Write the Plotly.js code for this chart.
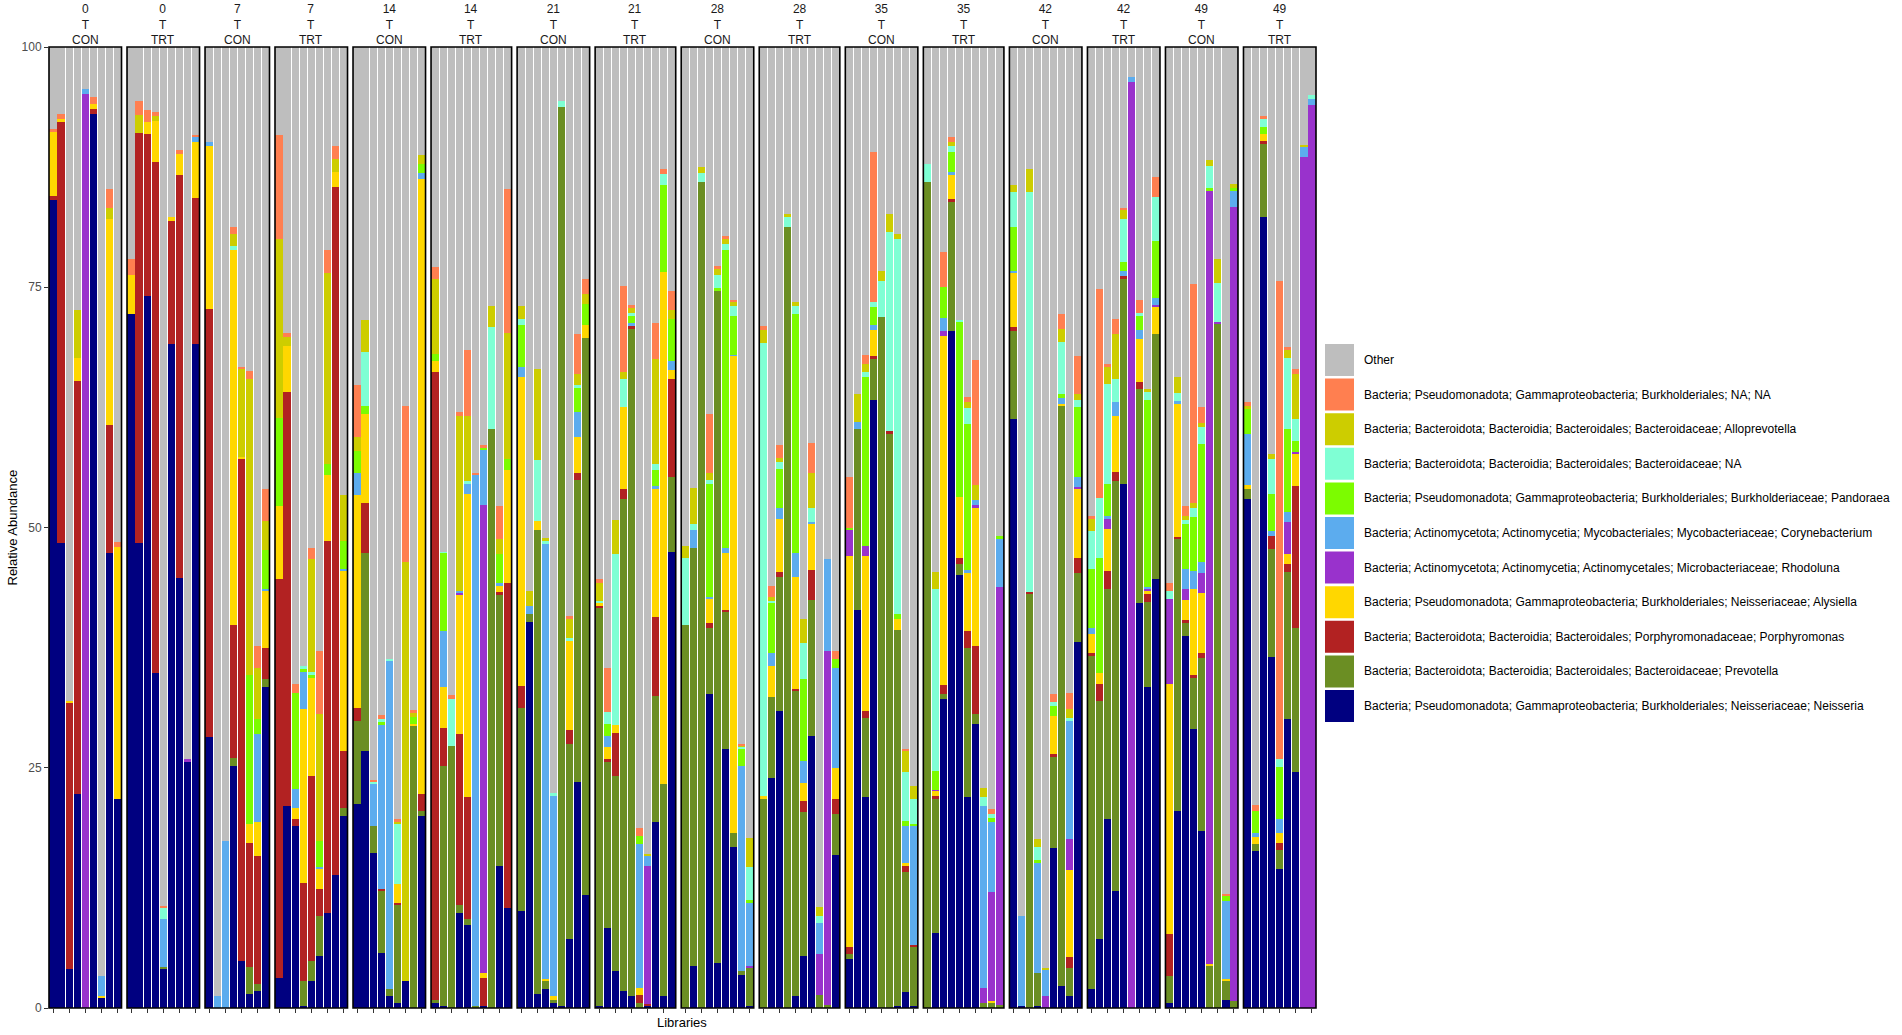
<!DOCTYPE html>
<html>
<head>
<meta charset="utf-8">
<script src="https://cdn.plot.ly/plotly-3.0.1.min.js"></script>
<style>html,body{margin:0;padding:0;background:#fff;}#chart{width:1902px;height:1035px;}</style>
</head>
<body>
<div id="chart"></div>
<script>
// ---- facets ----
const facetDay = [0,0,7,7,14,14,21,21,28,28,35,35,42,42,49,49];
const facetGroup = ['CON','TRT','CON','TRT','CON','TRT','CON','TRT','CON','TRT','CON','TRT','CON','TRT','CON','TRT'];
const facetBars = [9,9,8,9,9,10,9,10,9,10,9,10,9,9,9,9];

// ---- series values (relative abundance %, bars in facet order) ----
const neisseria = [
 84.1,48.4,4.1,22.3,0,93.0,1.0,47.3,21.7,
 72.2,48.4,74.1,34.9,4.1,69.1,44.7,25.6,69.1,
 28.2,0,0,25.2,4.9,1.5,1.8,33.4,
 3.1,21.0,18.9,0.2,2.8,5.4,9.9,13.8,20.0,
 21.2,26.7,16.1,5.7,1.2,0.5,2.8,0,20.0,
 0.5,0.2,0,9.9,8.6,0,0.2,0,14.8,10.4,
 10.1,40.2,1.5,2.0,0.5,0.2,7.2,23.5,11.8,
 0.2,8.3,3.9,1.8,1.2,0,0.2,19.4,1.2,47.5,
 0,4.4,0,32.7,4.7,26.9,16.8,3.4,0.2,
 0,23.9,30.9,0,1.3,5.4,28.3,0,0,15.9,
 5.1,41.4,22.0,63.3,0,0,0.2,1.7,0.2,
 0,7.8,32.2,70.4,45.1,22.0,29.6,0,0,0,
 61.3,0.2,0,0.2,0,16.6,2.3,1.2,38.1,
 2.0,7.2,19.7,12.2,54.5,0,42.1,33.4,44.6,
 0.5,20.5,38.7,29.0,18.4,0,0,0.8,0,
 53.0,16.3,82.3,36.5,14.5,30.1,24.6,0,0];
const prevotella = [
 0,0,0,0,0,0,0,0,0,
 0,0,0,0,0.2,0,0,0,0,
 0,0,0,0.8,0,2.8,0.7,0.8,
 0,0,0,2.6,2.1,4.2,0,0,0.8,
 8.7,20.6,2.8,6.5,0.8,10.2,0,29.3,0.5,
 0.3,25.0,27.3,0.8,0.7,0.2,0,60.3,28.2,0,
 21.1,0.8,48.2,0.8,0.3,93.6,20.3,31.4,57.9,
 41.4,17.3,20.2,51.2,69.5,0.5,0,13.1,22.1,7.8,
 39.9,43.5,86.0,6.8,69.9,14.3,1.4,0.5,4.0,
 21.7,8.5,14.0,81.3,31.7,15.0,14.2,1.4,0.3,4.3,
 0.5,18.8,8.2,4.2,71.9,59.7,39.1,12.5,6.2,
 86.0,14.0,0.5,13.5,1.1,15.5,1.0,0.5,0.5,0.3,
 9.1,0,43.1,3.4,0,9.5,60.3,3.0,7.2,
 34.6,24.7,23.9,42.6,21.4,0,22.3,8.9,25.5,
 2.8,28.3,1.4,5.3,18.0,4.4,71.2,2.0,0.7,
 1.0,0.8,7.6,11.3,1.9,15.3,14.9,0,0];
const porphyromonas = [
 0.4,43.8,27.6,42.9,0,0.6,0,13.4,0,
 0,42.6,16.8,53.1,0,12.8,42.0,0,15.2,
 44.5,0,0,13.9,52.2,12.9,13.3,3.3,
 41.5,43.1,0.8,10.2,19.2,2.8,38.7,71.6,5.9,
 1.3,5.2,0,0.2,0,0.2,0,0,1.8,
 65.4,3.9,0,17.8,12.7,0,2.9,0,0.3,33.8,
 2.3,0,0,0,0,0,1.4,0.8,0,
 0.2,0.3,4.5,1.0,0.3,0.9,0.2,8.2,0,10.2,
 0,0,0,0.6,0,0.2,0,0,0,
 0,0,0.5,0,0.2,1.1,3.1,0,0,1.6,
 0.8,0,0.7,0.3,0,0.3,0,0.6,0.2,
 0,0.3,0.9,0.3,0.6,1.7,7.1,0,0,0,
 0.5,0,0.2,0,0,0.3,0,1.1,1.5,
 0.3,1.8,1.9,1.0,0.3,0,0.7,0.8,0,
 4.4,0.2,0.3,0.3,0.5,0,0,0,0,
 0,0,0.3,1.3,0.8,0.8,14.8,0,0];
const alysiella = [
 6.7,0.3,0.2,2.4,0,0.5,0.2,21.4,26.3,
 4.1,0,1.3,4.3,0,0.4,2.2,0,5.8,
 17.0,0,0,39.0,0.2,1.9,3.6,5.9,
 7.6,4.8,1.1,18.1,10.2,2.1,6.9,1.6,18.8,
 22.2,9.3,0,0,0,2.0,0,0.3,64.0,
 1.1,4.3,0,14.5,31.5,0,0.5,0,0.6,11.8,
 32.2,0,1.0,0.2,0.4,0,9.3,3.7,1.4,
 0.3,1.3,0.9,8.5,0,0.7,0,13.3,53.3,0.9,
 0,0,0,2.5,0,5.9,49.6,0,0,
 0.4,3.2,5.5,0,11.7,1.9,4.8,0,0,3.2,
 40.6,0,16.1,2.8,0,0,1.2,0.3,0,
 0,0.5,36.3,2.5,6.4,6.1,14.3,0,0.2,0,
 5.6,0,0,0,0,4.0,0.3,9.1,7.2,
 2.0,1.2,4.3,5.8,0,0,4.5,0.3,2.8,
 26.0,13.9,2.1,9.0,6.3,0.2,0,0.2,0,
 0.4,0.7,0.7,0,1.0,1.0,3.4,0,0];
const rhodoluna = [
 0,0,0,0,95.1,0,0,0,0,
 0,0,0,0,0,0,0,0.3,0,
 0,0,0,0,0,0,0,0,
 0,0,0,0,0,0,0,0,0,
 0,0,0,0,0,0,0,0,0,
 0,0,0,0.2,0,0,48.7,0,0,0,
 0,0,0,0,0,0,0,0,0,
 0,0,0,0,0,0,14.4,0,0,0,
 0,0,0,0,0,0,0,0,0.2,
 0,0,0,0,0,0,0,4.2,36.8,0,
 2.7,0,1.1,0,0,0,0,0,0,
 0,0.1,0.6,0,0,0,0.3,1.6,11.4,43.5,
 0,0,0,0,1.2,0,0,3.2,0.2,
 0,0,1.1,0,0,96.4,0,0.2,0.3,
 8.9,0,1.1,0,2.1,80.4,0.2,0,82.7,
 0,0,0,0,0,3.4,0.2,88.6,94.0];
const corynebacterium = [
 0,0,0,0,0.5,0,2.1,0,0,
 0,0,0,0,5.0,0,0,0,0.5,
 0.4,1.2,17.4,0,0,0,9.1,0.2,
 0,0,2.0,3.9,0,0.2,0,0,0.2,
 2.3,0,4.4,17.1,34.1,0,0,0,0.6,
 0,5.8,0,0.2,1.0,55.3,5.8,0,0.3,0,
 1.0,0.8,0,45.3,20.9,0,0,2.6,0,
 0,1.1,0,0,0.3,15.0,1.0,0.3,0,0.9,
 0,1.8,0,0.2,0,0.6,0.2,21.3,6.5,
 0,1.3,1.1,0,2.4,2.3,0.2,3.2,9.6,10.4,
 0,0.8,0,0.5,0,0,0,3.8,12.3,
 0,0,1.3,0.3,0,0.3,0.6,18.9,7.3,5.0,
 0.2,9.4,0,11.5,2.8,0,0.6,12.3,1.1,
 0.6,0,0.3,1.5,0.5,0.5,1.0,0.2,0.7,
 0,0.3,2.1,1.9,1.1,0,0,8.1,1.6,
 5.3,0.4,0,0.5,1.5,1.0,0,1.0,0.6];
const pandoraea = [
 0,0,0,0,0,0,0,0,0,
 0,0,0,0,0,0,0,0,0,
 0,0,0,0,0,15.6,1.6,4.1,
 9.2,0,10.0,0.3,0.3,2.7,1.1,0,2.9,
 2.3,0.8,0,0.3,0,0,0,0.7,0.9,
 0.8,8.1,0,0,0,0,0.2,0,3.0,1.1,
 4.4,0,0,0,0,0,0,2.5,2.2,
 0,1.3,0,0,0.7,0.8,0,1.7,9.0,4.4,
 0,0,0,11.7,0.3,31.0,4.0,1.8,0.3,
 0,5.2,4.1,0,24.9,8.5,0,0,0,0.9,
 0.2,0,17.6,1.8,0,0,0.5,0.6,0.2,
 0,2.0,3.2,2.1,18.2,15.2,0,0,0.4,0.3,
 4.6,0,0,0.3,0,1.0,0.4,0,7.2,
 6.2,11.9,3.3,0,0.9,0,1.4,19.5,5.9,
 0,0,4.7,5.6,12.3,0.3,0,0.6,0.3,
 2.6,2.3,0.8,3.9,5.4,8.6,1.1,0,0];
const bacteroidaceaeNA = [
 0,0,0,0,0,0,0,0,0,
 0,0,0,0,1.1,0,0,0,0,
 0,0,0,0.4,0,0,0,0,
 0,0,0,0.3,0.4,0,0,0,0,
 0,5.7,0.2,0.3,0.2,6.2,0,0,0,
 0,0.2,4.9,0,0.3,0,0,10.6,0,0,
 0.6,0,6.3,0.3,0.3,0.6,0.3,0.3,0,
 0.3,1.2,17.7,3.0,0.3,0,0,0.6,1.2,0,
 6.9,0.7,0.9,0.4,1.4,0.6,1.0,0.2,3.5,
 47.1,0.3,0.7,1.0,0.9,3.8,1.4,0.8,0,0,
 0.1,0,0.5,0.6,3.8,20.8,39.0,5.1,2.7,
 1.8,18.9,0,0.6,0.2,1.6,0,1.0,0.4,0,
 3.6,0,41.6,1.4,0,0.4,5.4,0.3,0.8,
 3.9,6.3,10.4,2.4,4.5,0,0.3,0.8,4.6,
 0.8,0.8,0.4,0.9,1.8,2.3,4.0,0,0,
 0,0,0.8,3.6,0.8,7.4,2.3,0,0.4];
const alloprevotella = [
 0,0,0,5.0,0,0,0,1.1,0,
 0,1.9,0,0.5,0,0,0,0,0,
 0,0,0,1.2,9.2,30.8,5.3,3.0,
 18.6,0.9,0,0,11.7,13.2,19.9,1.3,4.8,
 1.4,3.3,0,0,0,0.3,43.6,0.4,1.0,
 7.8,0,0,18.2,6.8,0,0,2.1,1.6,13.1,
 1.3,1.6,9.5,0.3,0,0,2.0,1.2,1.0,
 1.8,0,3.6,0.7,0.5,0,0.2,10.9,0,0.9,
 1.3,3.7,0.6,0.8,0.6,0.5,0.5,0.1,3.0,
 1.4,0.4,0.4,0.3,0.4,2.5,3.7,0.9,0,0,
 0,2.9,0.8,0,1.0,1.8,0.5,2.1,1.3,
 0,1.8,0,0.4,0,0.7,1.5,0.9,0,0,
 0.7,0,2.4,0.8,0.2,0,1.4,0.9,0.6,
 1.3,0,1.8,4.6,0.9,0,0,0.3,0,
 0,1.7,0.4,0.5,0.4,0.6,2.5,0,0.4,
 0.3,0,0,0.5,0,0.9,4.7,0.2,0];
const burkholderialesNA = [
 0.3,0.5,0,0,0,0.7,0,2.0,0.5,
 1.6,1.5,1.2,0.4,0.2,0,0.4,0,0.2,
 0,0,0,0.8,0.2,0.8,2.3,3.3,
 10.8,0.4,0.9,0,1.2,6.5,2.4,1.4,0,
 5.4,0,0.2,0.4,0,0.3,16.2,0.3,0,
 1.2,0,0.4,0.4,6.9,0.2,0.3,0,3.4,15.0,
 0,0,0,0,0,0,0.3,4.1,1.6,
 0.4,4.6,0,8.9,0.4,0.8,0,3.8,0.5,2.0,
 0,0,0,6.1,0.3,0.3,0.2,0.2,0,
 0.4,1.1,1.4,0,0,0,3.1,0,0,0.8,
 5.3,0,1.0,15.6,0,0,0,0.3,0,
 0,0,3.7,0.5,0,0.5,13.0,0,0.5,0,
 0,0,0,0,0,0.9,1.5,1.7,3.9,
 0.3,21.7,0.3,1.6,0.2,0,1.4,0,2.1,
 0.8,0,1.0,22.8,1.6,0,0,0.2,0,
 0.5,0.6,0.3,0,49.8,0.3,0.5,0,0];
const other = [
 8.5,7.0,68.1,27.4,4.4,5.2,96.7,14.8,51.5,
 22.1,5.6,6.6,6.8,89.4,17.7,10.7,74.1,9.2,
 9.9,98.8,82.6,18.7,33.3,33.7,62.3,46.0,
 9.2,29.8,66.3,64.4,52.1,62.9,21.1,10.3,46.6,
 35.2,28.4,76.3,69.5,63.7,80.3,37.4,69.0,11.2,
 22.9,52.5,67.4,38.0,31.5,44.3,41.4,27.0,47.8,14.8,
 27.0,56.6,33.5,51.1,77.6,5.6,59.2,29.9,24.1,
 55.4,64.6,49.2,24.9,26.8,81.3,84.0,28.7,12.7,25.4,
 51.9,45.9,12.5,38.2,22.8,19.7,26.3,72.5,82.3,
 29.0,56.1,41.4,17.4,26.5,59.5,41.2,89.5,53.3,62.9,
 44.7,36.1,32.0,10.9,23.3,17.4,19.5,73.0,76.9,
 12.2,54.6,21.3,9.4,28.4,36.4,32.6,77.1,79.3,50.9,
 14.4,90.4,12.7,82.4,95.8,67.3,27.8,67.2,32.2,
 48.8,25.2,33.0,28.3,16.8,3.1,26.3,35.6,13.5,
 55.8,34.3,47.8,24.7,37.5,11.8,22.1,88.1,14.3,
 36.9,78.9,7.2,42.4,24.3,31.2,33.5,10.2,5.0];

// ---- series names / colours (stack order bottom -> top) ----
const seriesNames = [
 'Bacteria; Pseudomonadota; Gammaproteobacteria; Burkholderiales; Neisseriaceae; Neisseria',
 'Bacteria; Bacteroidota; Bacteroidia; Bacteroidales; Bacteroidaceae; Prevotella',
 'Bacteria; Bacteroidota; Bacteroidia; Bacteroidales; Porphyromonadaceae; Porphyromonas',
 'Bacteria; Pseudomonadota; Gammaproteobacteria; Burkholderiales; Neisseriaceae; Alysiella',
 'Bacteria; Actinomycetota; Actinomycetia; Actinomycetales; Microbacteriaceae; Rhodoluna',
 'Bacteria; Actinomycetota; Actinomycetia; Mycobacteriales; Mycobacteriaceae; Corynebacterium',
 'Bacteria; Pseudomonadota; Gammaproteobacteria; Burkholderiales; Burkholderiaceae; Pandoraea',
 'Bacteria; Bacteroidota; Bacteroidia; Bacteroidales; Bacteroidaceae; NA',
 'Bacteria; Bacteroidota; Bacteroidia; Bacteroidales; Bacteroidaceae; Alloprevotella',
 'Bacteria; Pseudomonadota; Gammaproteobacteria; Burkholderiales; NA; NA',
 'Other'];
const seriesValues = [neisseria, prevotella, porphyromonas, alysiella, rhodoluna, corynebacterium,
  pandoraea, bacteroidaceaeNA, alloprevotella, burkholderialesNA, other];
const seriesColors = ['#000080','#6B8E23','#B22222','#FFD700','#9932CC','#5CACEE',
  '#7CFC00','#7FFFD4','#CDCD00','#FF7F50','#BEBEBE'];

// ---- layout geometry (pixels) ----
const W = 1902, H = 1035;
const ml = 49, mr = W - 1316, mt = 47, mb = H - 1008;
const plotW = W - ml - mr, plotH = H - mt - mb;
const gapPx = 5.5;
const totalBars = facetBars.reduce((a, b) => a + b, 0);
const unitPx = (plotW - gapPx * (facetBars.length - 1)) / totalBars;
const FONT = 'Liberation Sans, Arial, Helvetica, sans-serif';
const px2x = p => (p - ml) / plotW;
const px2y = p => 1 - (p - mt) / plotH;

const traces = [];
const layout = {
  width: W, height: H,
  margin: {l: ml, r: mr, t: mt, b: mb, pad: 0},
  paper_bgcolor: '#ffffff', plot_bgcolor: '#ffffff',
  barmode: 'stack', bargap: 0.1,
  showlegend: false,
  font: {family: FONT, size: 12, color: '#000'},
  yaxis: {
    domain: [0, 1], anchor: 'x', range: [0, 100],
    tickvals: [0, 25, 50, 75, 100], ticktext: ['0','25','50','75','100'],
    ticks: 'outside', ticklen: 4, tickwidth: 1, tickcolor: '#333',
    tickfont: {family: FONT, size: 12, color: '#4d4d4d'},
    showgrid: false, zeroline: false, showline: false, fixedrange: true
  },
  shapes: [], annotations: []
};

let offset = 0, startPx = 0;
facetBars.forEach((n, f) => {
  const ax = f === 0 ? '' : String(f + 1);
  const libs = [];
  for (let k = 0; k < n; k++) libs.push('D' + facetDay[f] + facetGroup[f] + '_' + (k + 1));
  const d0 = startPx / plotW, d1 = (startPx + n * unitPx) / plotW;
  layout['xaxis' + ax] = {
    domain: [d0, Math.min(d1, 1)], anchor: 'y', type: 'category',
    categoryorder: 'array', categoryarray: libs,
    range: [-0.5, n - 0.5],
    ticks: 'outside', ticklen: 4, tickwidth: 1, tickcolor: '#333',
    showticklabels: false, showgrid: false, zeroline: false, showline: false, fixedrange: true
  };
  seriesValues.forEach((vals, s) => {
    traces.push({
      type: 'bar', x: libs, y: vals.slice(offset, offset + n),
      xaxis: 'x' + ax, yaxis: 'y', name: seriesNames[s],
      marker: {color: seriesColors[s], line: {width: 0}},
      hoverinfo: 'name+y'
    });
  });
  layout.shapes.push({
    type: 'rect', xref: 'x' + ax + ' domain', yref: 'y domain',
    x0: 0, x1: 1, y0: 0, y1: 1, line: {color: '#000', width: 1.6}, layer: 'above'
  });
  layout.annotations.push({
    xref: 'x' + ax + ' domain', yref: 'paper', x: 0.5, y: 1, yshift: -2,
    xanchor: 'center', yanchor: 'bottom', showarrow: false, align: 'center',
    text: facetDay[f] + '<br>T<br>' + facetGroup[f],
    font: {family: FONT, size: 12, color: '#1a1a1a'}
  });
  offset += n;
  startPx += n * unitPx + gapPx;
});

// axis titles
layout.annotations.push({
  xref: 'paper', yref: 'paper', x: px2x(682), y: px2y(1022),
  xanchor: 'center', yanchor: 'middle', showarrow: false,
  text: 'Libraries', font: {family: FONT, size: 13, color: '#000'}
});
layout.annotations.push({
  xref: 'paper', yref: 'paper', x: px2x(12), y: 0.5,
  xanchor: 'center', yanchor: 'middle', showarrow: false, textangle: -90,
  text: 'Relative Abundance', font: {family: FONT, size: 13, color: '#000'}
});

// custom legend (top entry = last series in stack)
const legTop = 344, legStep = 34.6, keyH = 32, keyX0 = 1325, keyX1 = 1354, textX = 1362;
for (let k = 0; k < seriesNames.length; k++) {
  const s = seriesNames.length - 1 - k;
  const top = legTop + k * legStep;
  layout.shapes.push({
    type: 'rect', xref: 'paper', yref: 'paper',
    x0: px2x(keyX0), x1: px2x(keyX1), y0: px2y(top + keyH), y1: px2y(top),
    fillcolor: seriesColors[s], line: {width: 0}
  });
  layout.annotations.push({
    xref: 'paper', yref: 'paper', x: px2x(textX), y: px2y(top + keyH / 2),
    xanchor: 'left', yanchor: 'middle', showarrow: false,
    text: seriesNames[s], font: {family: FONT, size: 12, color: '#000'}
  });
}

Plotly.newPlot('chart', traces, layout, {displayModeBar: false, staticPlot: true});
</script>
</body>
</html>
